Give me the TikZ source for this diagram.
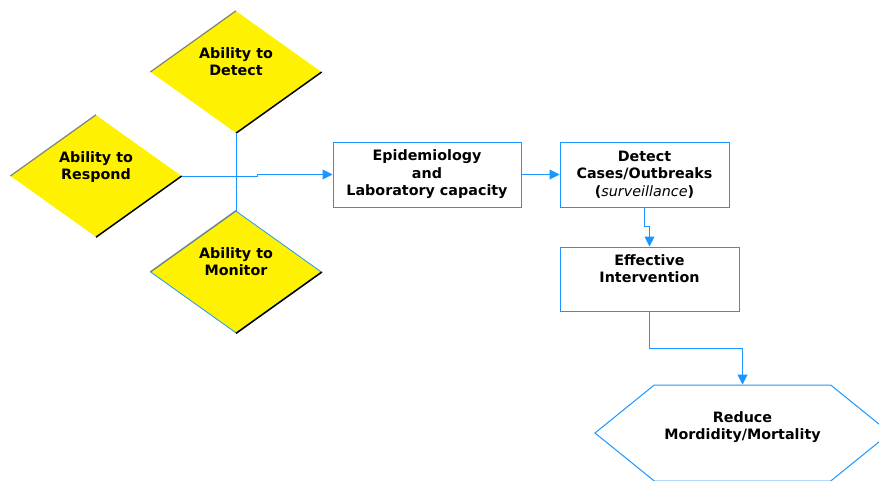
\documentclass[tikz,border=0pt]{standalone}
\usepackage{fontspec}
\setmainfont{DejaVu Sans}
\usetikzlibrary{shapes.geometric,shapes.symbols,arrows.meta,positioning}
\definecolor{flowblue}{RGB}{25,150,255}

\begin{document}
\begin{tikzpicture}[x=1pt,y=-1pt,
	ability/.style={diamond,fill=yellow,minimum width=171pt,minimum height=122pt,inner sep=0pt,aspect=1.4,align=center,font=\bfseries\fontsize{14.3}{17.5}\selectfont,text depth=21pt},
	stepbox/.style={rectangle,draw=flowblue,line width=1pt,align=center,inner sep=0pt,font=\bfseries\fontsize{14.3}{17.5}\selectfont},
	link/.style={draw=flowblue,line width=1pt},
	flow/.style={link,-{Triangle[length=10pt,width=10pt]}}]
			\useasboundingbox (0,0) rectangle (879,480);
			% the three abilities
			\node[ability] (det) at (236,72){Ability to\\Detect};
			\node[ability] (resp) at (96,176){Ability to\\Respond};
			\node[ability,draw=flowblue,line width=0.8pt] (mon) at (236,272){Ability to\\Monitor};
			\draw[gray,line width=1.2pt] (det.west) -- (det.north); \draw[line width=1.5pt] (det.east) -- (det.south);
			\draw[gray,line width=1.2pt] (resp.west) -- (resp.north); \draw[line width=1.5pt] (resp.east) -- (resp.south);
			\draw[gray,line width=1.2pt] (mon.west) -- (mon.north); \draw[line width=1.5pt] (mon.east) -- (mon.south);
			% process boxes
			\node[stepbox,minimum width=188pt,minimum height=65pt] (epi) at (427,174.5){Epidemiology\\and\\Laboratory capacity};
			\node[stepbox,minimum width=169pt,minimum height=65pt] (cases) at (644.5,174.5){Detect\\Cases/Outbreaks\\(\textmd{\textit{surveillance}})};
			\node[stepbox,minimum width=179pt,minimum height=64pt,text depth=21pt] (eff) at (649.5,279){Effective\\Intervention};
			\node[signal,signal to=west and east,signal pointer angle=78,draw=flowblue,line width=1pt,minimum width=295pt,minimum height=96pt,inner sep=0pt,align=center,font=\bfseries\fontsize{14.3}{17.5}\selectfont,text depth=15pt] (red) at (742.5,433){Reduce\\Mordidity/Mortality};
			% connectors
			\coordinate (jog) at (257,176);
			\draw[link] (det.south) -- (mon.north);
			\draw[flow] (resp.east) -- (jog) |- (epi.west);
			\draw[flow] (epi.east) -- (cases.west);
			\draw[flow] (cases.south) -- ++(0,19) -| (eff.north);
			\draw[flow] (eff.south) -- ++(0,37) -| (red.north);
		\end{tikzpicture}
\end{document}
